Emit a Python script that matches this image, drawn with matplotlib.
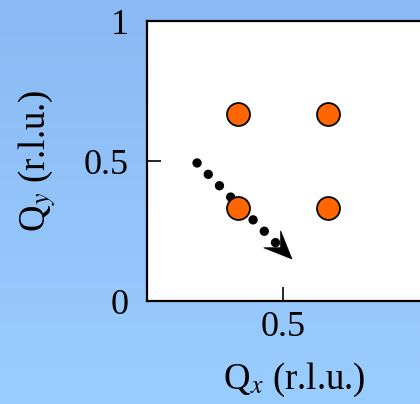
import numpy as np
import matplotlib
matplotlib.use("Agg")
import matplotlib.pyplot as plt
from matplotlib.patches import Polygon
from matplotlib.transforms import Affine2D

plt.rcParams['font.family'] = ['Liberation Serif', 'DejaVu Serif']
plt.rcParams['mathtext.fontset'] = 'stix'

# Bragg peak positions (r.l.u.)
peak_qx = [1/3, 2/3, 1/3, 2/3]
peak_qy = [2/3, 2/3, 1/3, 1/3]

# dotted scan path and where its arrow points
path_qx = [0.184, 0.474]
path_qy = [0.493, 0.207]
tip_q = (0.533, 0.150)

ytick_vals = [0, 0.5, 1]
ytick_text = ['0', '0.5', '1']
xtick_vals = [0.5]
xtick_text = ['0.5']

fig = plt.figure(figsize=(4.2, 4.04), dpi=100)

# light blue gradient backdrop
bg = fig.add_axes([0, 0, 1, 1], zorder=-10)
grad = np.linspace(0, 1, 256).reshape(-1, 1)
top_c = np.array([0x8a, 0xb9, 0xf3]) / 255
bot_c = np.array([0x9a, 0xcd, 0xff]) / 255
img = top_c[None, None, :] * (1 - grad[:, :, None]) + bot_c[None, None, :] * grad[:, :, None]
bg.imshow(img, aspect='auto', extent=[0, 1, 0, 1])
bg.axis('off')

ax = fig.add_axes([147/420, 103/404, 0.70, 280/404])
ax.set_facecolor('white')
ax.set_xlim(0, 1.0 * 0.70 * 420 / 272)
ax.set_ylim(0, 1)
ax.spines['right'].set_visible(False)
for s in ['left', 'bottom', 'top']:
    ax.spines[s].set_linewidth(1.6)

ax.set_yticks(ytick_vals)
ax.set_yticklabels(ytick_text)
ax.set_xticks(xtick_vals)
ax.set_xticklabels(xtick_text)
ax.tick_params(direction='in', length=10, width=1.2, labelsize=26)
ax.tick_params(axis='y', pad=13)
ax.tick_params(axis='x', pad=7)

ax.set_xlabel(r'Q$_x$ (r.l.u.)', fontsize=26.5, labelpad=12)
ax.set_ylabel(r'Q$_y$ (r.l.u.)', fontsize=26.5, labelpad=18)

# dotted path
ax.plot(path_qx, path_qy, color='black', lw=6.8, linestyle=(0, (0.001, 1.69)),
        dash_capstyle='round', zorder=2)

# stealth-like arrow head at the end of the path
tip_disp = ax.transData.transform(tip_q)
prev_disp = ax.transData.transform((path_qx[1], path_qy[1]))
ang = np.arctan2(tip_disp[1] - prev_disp[1], tip_disp[0] - prev_disp[0])
head = np.array([[0, 0], [-28, 12], [-16, 0], [-28, -12]])
tr = Affine2D().rotate(ang).translate(*tip_disp)
ax.add_patch(Polygon(tr.transform(head), closed=True, facecolor='black',
                     edgecolor='black', lw=0.5, transform=None, zorder=2))

# peaks
ax.plot(peak_qx, peak_qy, 'o', ms=16.5, markerfacecolor='#ff6600',
        markeredgecolor='black', markeredgewidth=1.3, zorder=3)

fig.savefig('out.png', dpi=100)
